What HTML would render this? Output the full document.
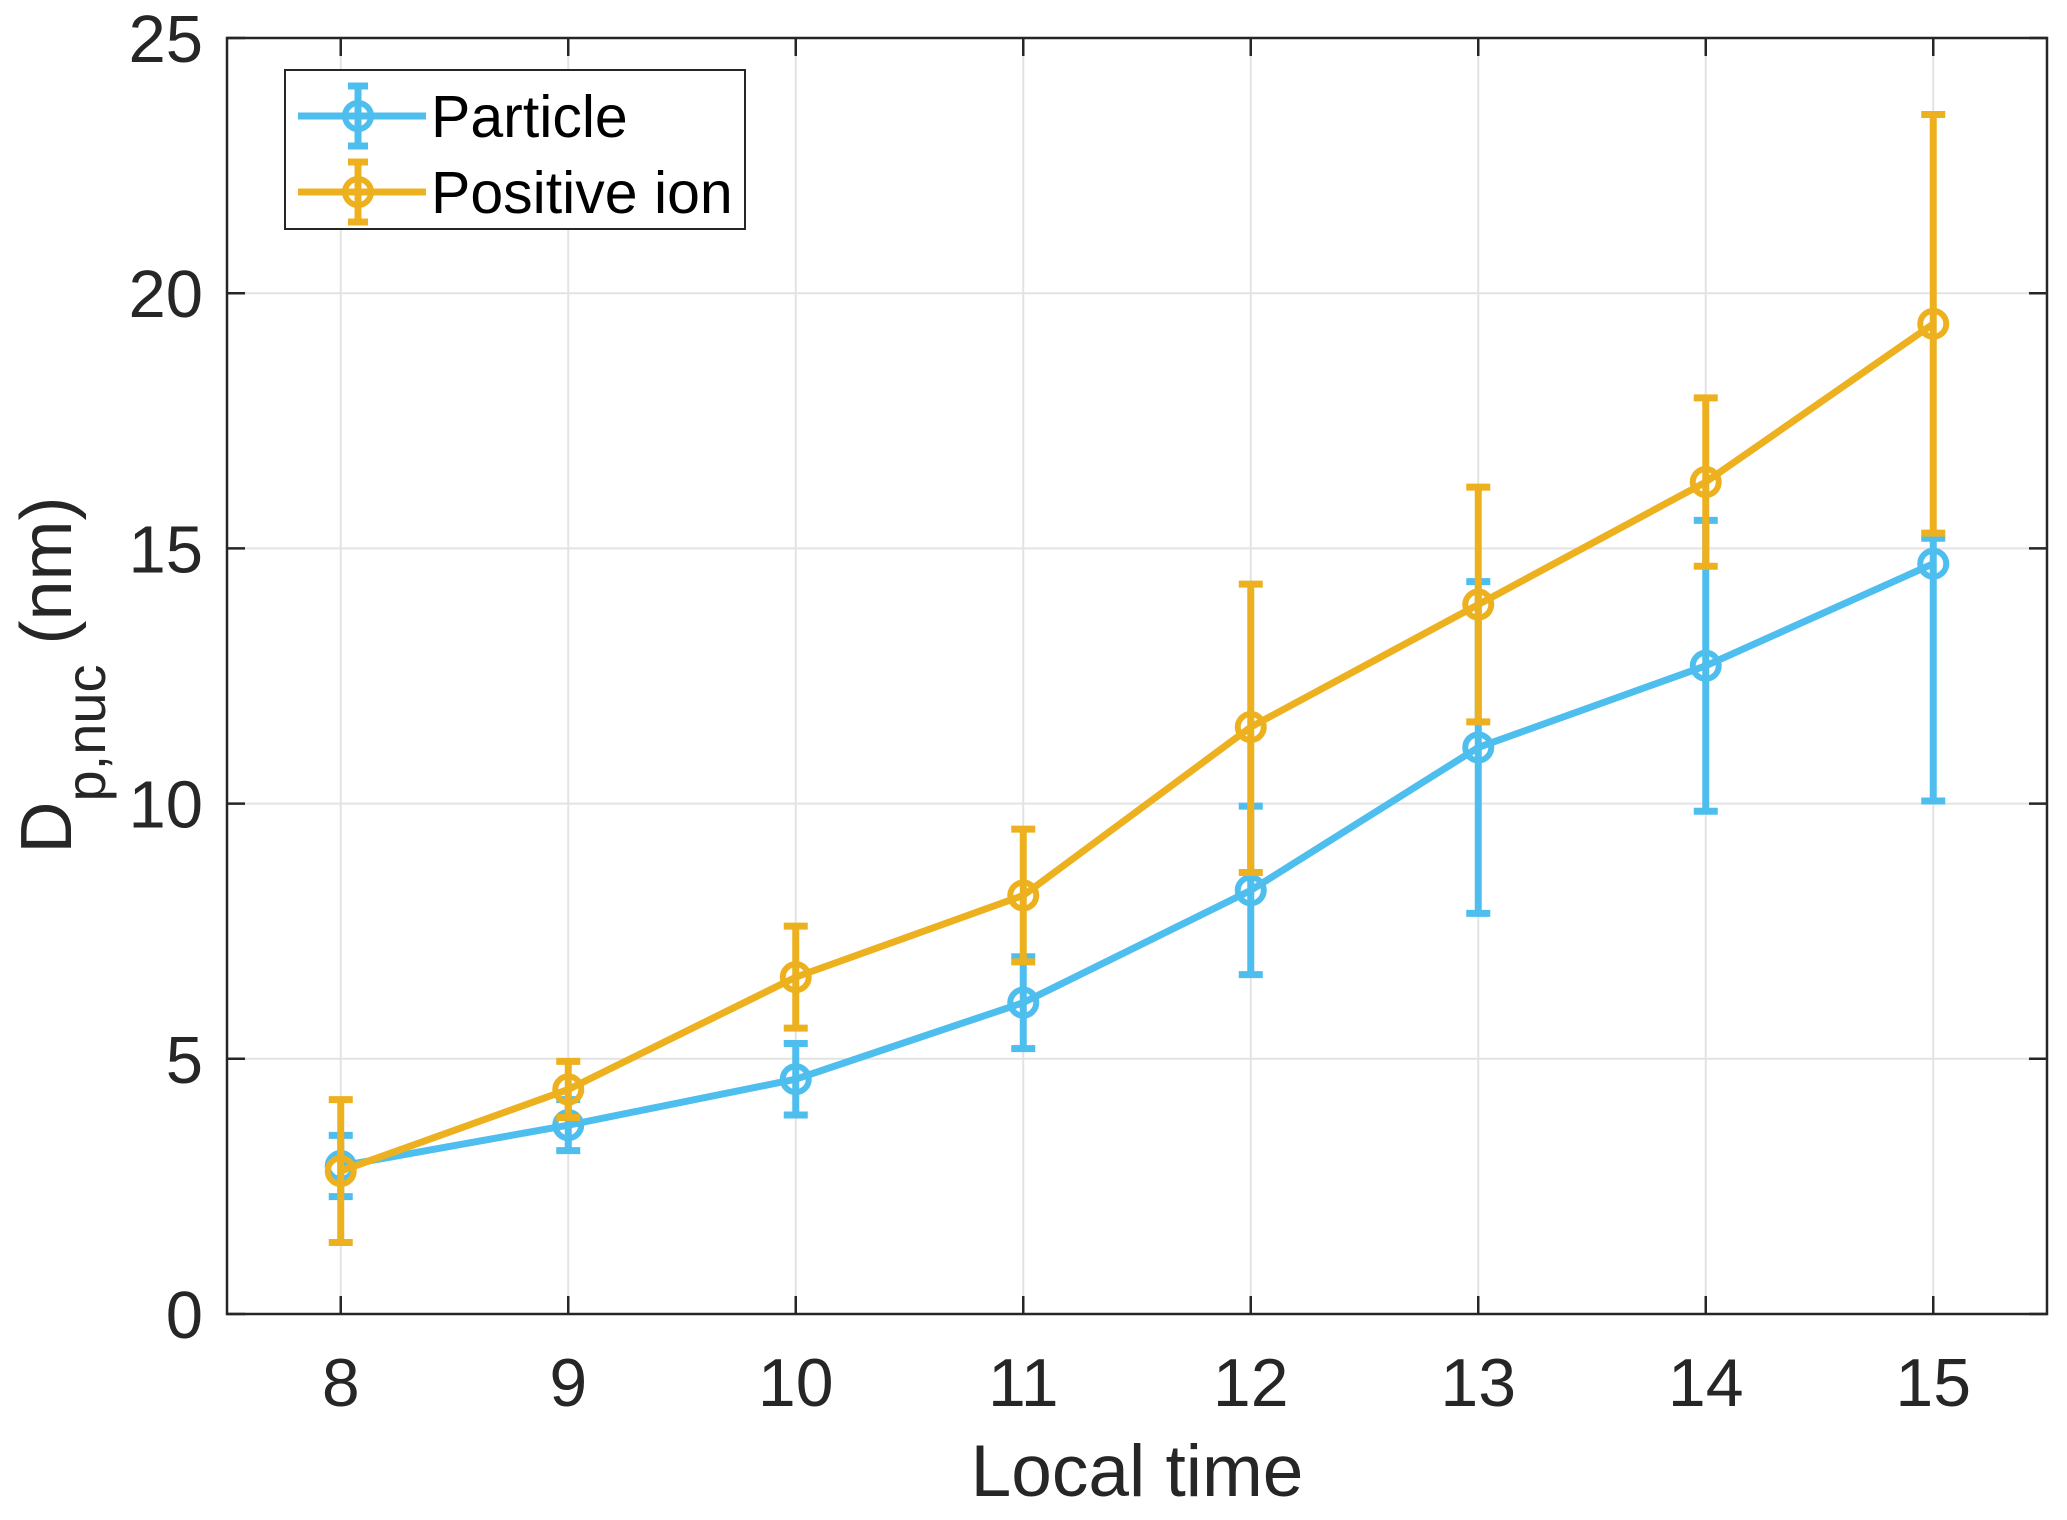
<!DOCTYPE html>
<html><head><meta charset="utf-8"><style>
html,body{margin:0;padding:0;background:#fff;}
svg text{font-family:"Liberation Sans",Arial,sans-serif;fill:#262626;}
</style></head><body>
<svg id="chart" width="2067" height="1515" viewBox="0 0 2067 1515" xmlns="http://www.w3.org/2000/svg">
<rect width="2067" height="1515" fill="#fff"/>
<g id="grid"></g>
<g id="series"></g>
<g id="axes"></g>
<g id="legend"></g>
</svg>
<script>
const categories = [8, 9, 10, 11, 12, 13, 14, 15];
const particleMean = [2.9, 3.7, 4.6, 6.1, 8.3, 11.1, 12.7, 14.7];
const particleLow = [2.3, 3.2, 3.9, 5.2, 6.65, 7.85, 9.85, 10.05];
const particleHigh = [3.5, 4.2, 5.3, 7.0, 9.95, 14.35, 15.55, 15.2];
const ionMean = [2.8, 4.4, 6.6, 8.2, 11.5, 13.9, 16.3, 19.4];
const ionLow = [1.4, 3.85, 5.6, 6.9, 8.65, 11.6, 14.65, 15.3];
const ionHigh = [4.2, 4.95, 7.6, 9.5, 14.3, 16.2, 17.95, 23.5];
const yTicks = [0, 5, 10, 15, 20, 25];
const xTicks = [8, 9, 10, 11, 12, 13, 14, 15];

const NS = 'http://www.w3.org/2000/svg';
const L = 227, R = 2047, T = 38, B = 1314;
const xMin = 7.5, xMax = 15.5, yMin = 0, yMax = 25;
function xs(v){ return L + (v - xMin) / (xMax - xMin) * (R - L); }
function ys(v){ return B - (v - yMin) / (yMax - yMin) * (B - T); }
function mk(tag, attrs, parent){
  const e = document.createElementNS(NS, tag);
  for (const k in attrs) e.setAttribute(k, attrs[k]);
  parent.appendChild(e);
  return e;
}
const grid = document.getElementById('grid');
const axes = document.getElementById('axes');
const series = document.getElementById('series');
const legend = document.getElementById('legend');

xTicks.forEach(t => {
  const g = mk('line', {x1: xs(t), x2: xs(t), y1: T, y2: B, stroke: '#e3e3e3', 'stroke-width': 2}, grid);
  
  
});
yTicks.forEach(t => {
  const g = mk('line', {x1: L, x2: R, y1: ys(t), y2: ys(t), stroke: '#e3e3e3', 'stroke-width': 2}, grid);
  
  
});

function drawSeries(mean, low, high, color, name){
  const g = mk('g', {}, series);
  
  
  categories.forEach((c, i) => {
    const x = xs(c);
    const e = mk('path', {d: `M${x},${ys(low[i])}V${ys(high[i])}M${x-12},${ys(low[i])}H${x+12}M${x-12},${ys(high[i])}H${x+12}`, stroke: color, 'stroke-width': 7, fill: 'none'}, g);
    
    
  });
  const pts = categories.map((c, i) => xs(c) + ',' + ys(mean[i])).join(' ');
  const pl = mk('polyline', {points: pts, stroke: color, 'stroke-width': 7, fill: 'none', 'stroke-linejoin': 'round'}, g);
  
  
  categories.forEach((c, i) => {
    const m = mk('circle', {cx: xs(c), cy: ys(mean[i]), r: 13, stroke: color, 'stroke-width': 6, fill: 'none'}, g);
    
    
  });
}
drawSeries(particleMean, particleLow, particleHigh, '#4DBEEE', 'particle');
drawSeries(ionMean, ionLow, ionHigh, '#EDB120', 'positive-ion');

const box = mk('rect', {x: L, y: T, width: R - L, height: B - T, fill: 'none', stroke: '#262626', 'stroke-width': 2.5}, axes);


xTicks.forEach(t => {
  const tk = mk('path', {d: `M${xs(t)},${B}v-18M${xs(t)},${T}v18`, stroke: '#262626', 'stroke-width': 2.5}, axes);
  
  
  const tx = mk('text', {x: xs(t), y: 1406, 'text-anchor': 'middle', 'font-size': 68}, axes);
  tx.textContent = t;
  
  
});
yTicks.forEach(t => {
  const tk = mk('path', {d: `M${L},${ys(t)}h18M${R},${ys(t)}h-18`, stroke: '#262626', 'stroke-width': 2.5}, axes);
  
  
  const tx = mk('text', {x: 203, y: ys(t) + 24, 'text-anchor': 'end', 'font-size': 67}, axes);
  tx.textContent = t;
  
  
});
const xl = mk('text', {x: 1137, y: 1496, 'text-anchor': 'middle', 'font-size': 73}, axes);
xl.textContent = 'Local time';


const yl = mk('text', {x: 0, y: 0, 'text-anchor': 'middle', 'font-size': 72, transform: 'translate(71,675) rotate(-90)'}, axes);
yl.innerHTML = 'D<tspan font-size="56" dy="34">p,nuc</tspan><tspan dy="-34"> (nm)</tspan>';



const lb = mk('rect', {x: 285, y: 70, width: 460, height: 159, fill: '#fff', stroke: '#262626', 'stroke-width': 2}, legend);


[['Particle', '#4DBEEE', 116], ['Positive ion', '#EDB120', 192]].forEach(([label, color, y]) => {
  const g = mk('g', {}, legend);
  
  
  mk('path', {d: `M298,${y}H426M358,${y-30}V${y+30}M348,${y-30}H368M348,${y+30}H368`, stroke: color, 'stroke-width': 7, fill: 'none'}, g);
  mk('circle', {cx: 358, cy: y, r: 13, stroke: color, 'stroke-width': 6, fill: 'none'}, g);
  const t = mk('text', {x: 431, y: y + 21, 'font-size': 59, style: 'fill:#000'}, g);
  t.textContent = label;
});
</script>
</body></html>
